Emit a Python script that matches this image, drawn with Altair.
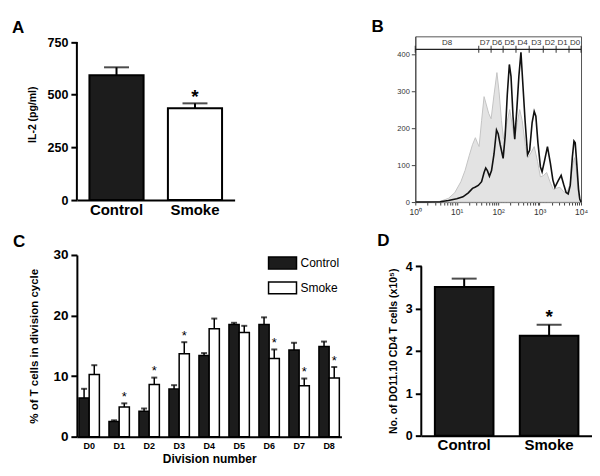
import altair as alt
import pandas as pd
import numpy as np

FONT = "Liberation Sans"

# ---------------- Panel A : IL-2 ----------------
a_groups = ["Control", "Smoke"]
a_mean = [592, 436]
a_upper = [630, 459]
a_sig = ["", "*"]
a_ticks = [0, 250, 500, 750]

# ---------------- Panel B : CFSE histogram ----------------
b_black_log = [0.0, 0.3, 0.6, 0.8, 1.0, 1.15, 1.28, 1.38, 1.44, 1.52, 1.60, 1.66, 1.70, 1.74,
               1.79, 1.84, 1.90, 1.96, 2.00, 2.05, 2.12, 2.17, 2.22, 2.27, 2.31, 2.36, 2.40,
               2.45, 2.50, 2.55, 2.59, 2.65, 2.71, 2.76, 2.82, 2.87, 2.91, 2.96, 3.02, 3.06,
               3.12, 3.19, 3.26, 3.32, 3.37, 3.45, 3.52, 3.58, 3.64, 3.69, 3.74, 3.79, 3.83,
               3.86, 3.90, 3.94, 3.97, 4.0]
b_black_val = [0, 0, 1, 4, 9, 14, 25, 37, 40, 45, 55, 80, 92, 85,
               70, 85, 130, 195, 185, 155, 118, 180, 290, 372, 340, 230, 170,
               250, 340, 405, 330, 220, 128, 140, 215, 245, 232, 160, 95, 82,
               112, 150, 105, 60, 40, 58, 72, 48, 26, 22, 45, 120, 165,
               160, 100, 35, 8, 0]
b_gray_log = [0.0, 0.4, 0.6, 0.8, 0.95, 1.1, 1.2, 1.3, 1.38, 1.45, 1.50, 1.54, 1.60, 1.66,
              1.71, 1.77, 1.83, 1.90, 1.97, 2.02, 2.08, 2.13, 2.20, 2.28, 2.35, 2.40, 2.46,
              2.52, 2.58, 2.66, 2.72, 2.80, 2.87, 2.95, 3.02, 3.10, 3.17, 3.25, 3.33, 3.42,
              3.49, 3.58, 3.66, 3.74, 3.80, 3.84, 3.88, 3.93, 3.97, 4.0]
b_gray_val = [0, 0, 2, 10, 25, 55, 85, 125, 155, 174, 160, 150, 220, 285,
              265, 240, 225, 290, 350, 300, 220, 170, 210, 250, 200, 170, 215,
              250, 220, 150, 120, 135, 150, 110, 68, 72, 80, 55, 34, 38,
              40, 28, 25, 50, 100, 120, 95, 30, 5, 0]
b_gate_names = ["D8", "D7", "D6", "D5", "D4", "D3", "D2", "D1", "D0"]
b_gate_edges_log = [0.0, 1.53, 1.83, 2.12, 2.43, 2.75, 3.09, 3.40, 3.71, 4.0]
b_gate_level = 413
b_gate_label_level = 430
b_x_ticks = [1, 2, 3, 4, 5, 6, 7, 8, 9, 10, 20, 30, 40, 50, 60, 70, 80, 90,
             100, 200, 300, 400, 500, 600, 700, 800, 900,
             1000, 2000, 3000, 4000, 5000, 6000, 7000, 8000, 9000, 10000]
b_y_ticks = [0, 100, 200, 300, 400]

# ---------------- Panel C : division cycles ----------------
c_divisions = ["D0", "D1", "D2", "D3", "D4", "D5", "D6", "D7", "D8"]
c_treatments = ["Control", "Smoke"]
c_ctrl_mean = [6.4, 2.5, 4.2, 7.85, 13.4, 18.5, 18.5, 14.3, 14.9]
c_ctrl_upper = [7.9, 2.7, 4.65, 8.5, 13.8, 18.8, 19.7, 15.5, 15.7]
c_smoke_mean = [10.25, 4.9, 8.6, 13.7, 17.8, 17.2, 12.9, 8.4, 9.7]
c_smoke_upper = [11.8, 5.5, 9.75, 15.6, 19.5, 18.3, 14.4, 9.6, 11.5]
c_smoke_sig = ["", "*", "*", "*", "", "", "*", "*", "*"]

# ---------------- Panel D : cell numbers ----------------
d_groups = ["Control", "Smoke"]
d_mean = [3.51, 2.36]
d_upper = [3.71, 2.62]
d_sig = ["", "*"]
d_ticks = [0, 1, 2, 3, 4]

BAR_FILL = ["#1c1c1c", "white"]


def letter(ch, dx, dy):
    return alt.Chart(pd.DataFrame({"t": [ch]})).mark_text(
        font=FONT, fontSize=17, fontWeight="bold", align="left", baseline="alphabetic", color="black"
    ).encode(x=alt.value(dx), y=alt.value(dy), text="t:N")


def two_bar_panel(groups, mean, upper, sig, fills, ymax, yvals, ytitle, width, height,
                  letter_ch, ldx, ldy, title_pad, title_y, star_dy, label_size):
    df = pd.DataFrame({"group": groups, "mean": mean, "upper": upper, "sig": sig})
    x = alt.X("group:N", sort=groups,
              scale=alt.Scale(paddingInner=0.31, paddingOuter=0.16),
              axis=alt.Axis(title=None, labelAngle=0, labelFontSize=15, labelFontWeight="bold",
                            ticks=False, labelPadding=2, domainWidth=2))
    y = alt.Y("mean:Q", scale=alt.Scale(domain=[0, ymax], nice=False),
              axis=alt.Axis(values=yvals, title=ytitle, titleFontSize=10.5, titleFontWeight="bold",
                            titlePadding=title_pad, titleY=title_y, labelFontSize=label_size,
                            labelFontWeight="bold", tickSize=6, tickWidth=2, domain=False,
                            labelPadding=3))
    base = alt.Chart(df)
    bars = base.mark_bar(stroke="black", strokeWidth=2).encode(
        x=x, y=y,
        fill=alt.Fill("group:N", scale=alt.Scale(domain=groups, range=fills), legend=None))
    err = base.mark_rule(strokeWidth=2, color="black").encode(x=x, y="mean:Q", y2="upper:Q")
    cap = base.mark_tick(size=25, thickness=2, color="black").encode(x=x, y="upper:Q")
    star = base.mark_text(font=FONT, fontSize=19, fontWeight="bold", baseline="alphabetic",
                          dy=star_dy, color="black").encode(x=x, y="upper:Q", text="sig:N")
    yaxis_line = alt.Chart(pd.DataFrame({"lo": [yvals[0]], "hi": [yvals[-1]]})).mark_rule(
        strokeWidth=2, color="black").encode(x=alt.value(0), y="lo:Q", y2="hi:Q")
    return alt.layer(bars, err, cap, star, yaxis_line, letter(letter_ch, ldx, ldy)).properties(
        width=width, height=height)


# plot area of A starts a little above its 750 tick so that it lines up with panel B's frame
A_H = 164
panelA = two_bar_panel(a_groups, a_mean, a_upper, a_sig, BAR_FILL, 750 * A_H / 158.3, a_ticks,
                       "IL-2 (pg/ml)", 158, A_H, "A", -65, -3.3, 10, 78, 0, 12.5)

# ---- Panel B ----
dfBk = pd.DataFrame({"fl": np.power(10.0, b_black_log), "count": b_black_val})
dfBg = pd.DataFrame({"fl": np.power(10.0, b_gray_log), "count": b_gray_val})
edges = np.power(10.0, b_gate_edges_log)
dfGate = pd.DataFrame({"start": [edges[0]], "end": [edges[-1]], "lvl": [b_gate_level]})
dfEdges = pd.DataFrame({"edge": edges, "lvl": [b_gate_level] * len(edges)})
centers = [10 ** ((b_gate_edges_log[i] + b_gate_edges_log[i + 1]) / 2) for i in range(len(b_gate_names))]
dfGateLab = pd.DataFrame({"c": centers, "name": b_gate_names, "lvl": [b_gate_label_level] * len(centers)})

label_expr = ("datum.value == 1 ? '10⁰' : datum.value == 10 ? '10¹' : datum.value == 100 ? '10²' : "
              "datum.value == 1000 ? '10³' : datum.value == 10000 ? '10⁴' : ''")
xB = alt.X("fl:Q", scale=alt.Scale(type="log", domain=[1, 10000], nice=False),
           axis=alt.Axis(title=None, values=b_x_ticks, labelExpr=label_expr, labelOverlap=False,
                         labelFlush=False, labelFontSize=8.5, labelColor="#333", tickSize=3,
                         tickColor="#444", domainColor="#444", labelPadding=2))
yB = alt.Y("count:Q", scale=alt.Scale(domain=[0, 448], nice=False),
           axis=alt.Axis(title=None, values=b_y_ticks, labelFontSize=7.5, labelColor="#333",
                         tickSize=4, tickColor="#444", domainColor="#444", labelPadding=2))
grayB = alt.Chart(dfBg).mark_area(fill="#e3e3e3", stroke="#c4c4c4", strokeWidth=1).encode(x=xB, y=yB)
blackB = alt.Chart(dfBk).mark_line(color="#111", strokeWidth=1.6).encode(x="fl:Q", y="count:Q")
gateLine = alt.Chart(dfGate).mark_rule(color="#222", strokeWidth=1.3).encode(
    x="start:Q", x2="end:Q", y="lvl:Q")
gateTicks = alt.Chart(dfEdges).mark_tick(orient="vertical", size=7, thickness=1.3, color="#222").encode(
    x="edge:Q", y="lvl:Q")
gateLab = alt.Chart(dfGateLab).mark_text(font=FONT, fontSize=8, color="#333", baseline="middle").encode(
    x="c:Q", y="lvl:Q", text="name:N")
panelB = alt.layer(grayB, blackB, gateLine, gateTicks, gateLab, letter("B", -44, -4.3)).properties(
    width=166, height=166, view=alt.ViewBackground(stroke="#555", strokeWidth=1))

# ---- Panel C ----
rows = []
for i, d in enumerate(c_divisions):
    rows.append({"div": d, "trt": "Control", "mean": c_ctrl_mean[i], "upper": c_ctrl_upper[i], "sig": ""})
    rows.append({"div": d, "trt": "Smoke", "mean": c_smoke_mean[i], "upper": c_smoke_upper[i], "sig": c_smoke_sig[i]})
dfC = pd.DataFrame(rows)
xC = alt.X("div:N", sort=c_divisions, scale=alt.Scale(paddingInner=0.32, paddingOuter=0.07),
           axis=alt.Axis(title="Division number", titleFontSize=12, titleFontWeight="bold", titlePadding=3,
                         labelAngle=0, labelFontSize=9, labelFontWeight="bold", ticks=False,
                         labelPadding=5, domainWidth=2))
xoC = alt.XOffset("trt:N", sort=c_treatments, scale=alt.Scale(paddingInner=0, paddingOuter=0))
yC = alt.Y("mean:Q", scale=alt.Scale(domain=[0, 30], nice=False),
           axis=alt.Axis(values=[0, 10, 20, 30], title="% of T cells in division cycle", titleFontSize=11.5,
                         titleFontWeight="bold", titlePadding=13, labelFontSize=13.5, labelFontWeight="bold",
                         tickSize=6, tickWidth=2, domainWidth=2, labelPadding=3))
baseC = alt.Chart(dfC)
barsC = baseC.mark_bar(stroke="black", strokeWidth=1.5).encode(
    x=xC, xOffset=xoC, y=yC,
    fill=alt.Fill("trt:N", sort=c_treatments, scale=alt.Scale(domain=c_treatments, range=BAR_FILL),
                  legend=alt.Legend(title=None, orient="none", legendX=198, legendY=0, padding=0,
                                    symbolType="M-2,-0.85H2V0.85H-2Z", symbolSize=196,
                                    symbolStrokeColor="black", symbolStrokeWidth=1.5, symbolOpacity=1,
                                    labelFont=FONT, labelFontSize=12, labelColor="black",
                                    labelOffset=10, rowPadding=7)))
errC = baseC.mark_rule(strokeWidth=1.5, color="black").encode(x=xC, xOffset=xoC, y="mean:Q", y2="upper:Q")
capC = baseC.mark_tick(size=6, thickness=2, color="black").encode(x=xC, xOffset=xoC, y="upper:Q")
starC = baseC.mark_text(font=FONT, fontSize=13, baseline="alphabetic", dy=-2.5, color="black").encode(
    x=xC, xOffset=xoC, y="upper:Q", text="sig:N")
panelC = alt.layer(barsC, errC, capC, starC, letter("C", -64, -7.7)).properties(width=265, height=182)

# ---- Panel D ---- (plot area starts above the 4 tick so that it lines up with panel C)
D_H = 181
panelD = two_bar_panel(d_groups, d_mean, d_upper, d_sig, [BAR_FILL[0], BAR_FILL[0]], 4 * D_H / 169.6, d_ticks,
                       "No. of DO11.10 CD4 T cells (x10⁵)", 171, D_H, "D", -44, -9.3, 7, 96, -1.5, 12.5)

row1 = alt.hconcat(panelA, panelB, spacing=136).resolve_scale(fill="independent")
row2 = alt.hconcat(panelC, panelD, spacing=36).resolve_scale(fill="independent")
chart = alt.vconcat(row1, row2, spacing=14).resolve_scale(fill="independent").properties(
    padding={"left": 4, "top": 9, "right": 0, "bottom": 0}
).configure_view(stroke=None).configure_axis(
    grid=False, labelFont=FONT, titleFont=FONT, labelColor="black", titleColor="black",
    domainColor="black", tickColor="black"
).configure_text(font=FONT)

chart.save("out.html", embed_options={"renderer": "svg", "actions": False})
